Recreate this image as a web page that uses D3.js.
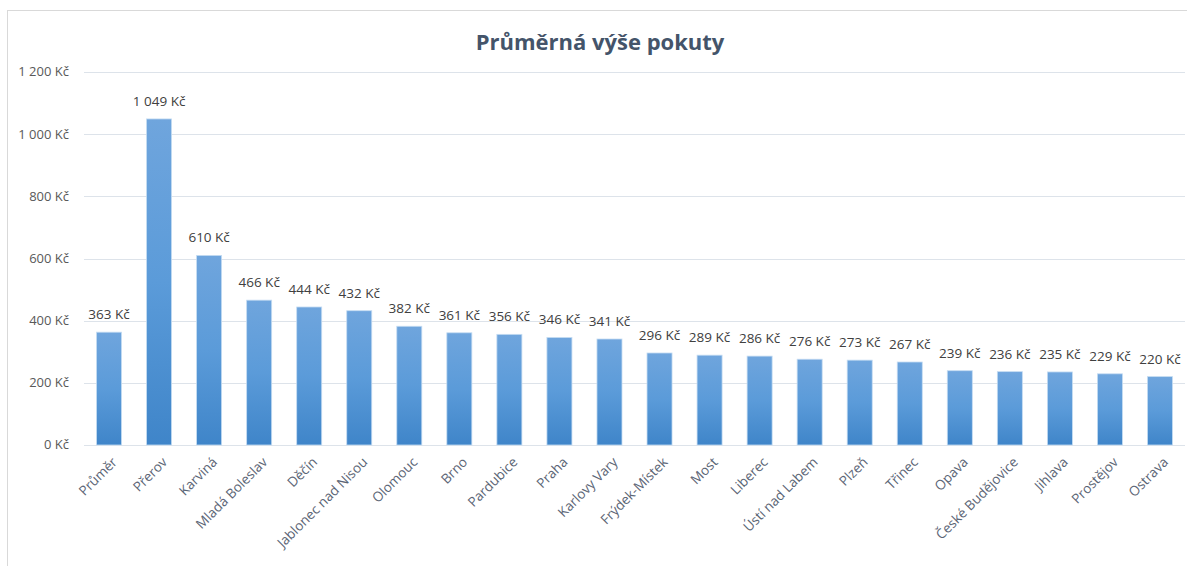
<!DOCTYPE html>
<html><head><meta charset="utf-8">
<script src="https://cdn.jsdelivr.net/npm/d3@7"></script>
<style>body{margin:0;background:#fff;}svg{display:block;font-family:"Open Sans",sans-serif;}</style>
</head><body>
<svg id="c" width="1187" height="566"></svg>
<script>
const categories = ["Průměr","Přerov","Karviná","Mladá Boleslav","Děčín","Jablonec nad Nisou","Olomouc","Brno","Pardubice","Praha","Karlovy Vary","Frýdek-Místek","Most","Liberec","Ústí nad Labem","Plzeň","Třinec","Opava","České Budějovice","Jihlava","Prostějov","Ostrava"];
const values = [363,1049,610,466,444,432,382,361,356,346,341,296,289,286,276,273,267,239,236,235,229,220];
const yTicks = [0,200,400,600,800,1000,1200];
const title = "Průměrná výše pokuty";

const FONT = "'Open Sans',sans-serif";
const fmt = v => d3.format(",")(v).replace(/,/g, "\u00a0") + " Kč";
const svg = d3.select("#c");
const W = 1187, H = 566;

svg.append("rect").attr("x",7.5).attr("y",10.5).attr("width",W-7).attr("height",H-10)
  .attr("fill","#fff").attr("stroke","#d9d9d9");

const x = d3.scaleBand().domain(categories).range([84,1185]).paddingInner(0.5).paddingOuter(0.25);
const y = d3.scaleLinear().domain([0,1200]).range([445,72]);

const defs = svg.append("defs");
const g = defs.append("linearGradient").attr("id","grad").attr("x1",0).attr("y1",0).attr("x2",0).attr("y2",1);
g.append("stop").attr("offset","0%").attr("stop-color","#6fa5dd");
g.append("stop").attr("offset","50%").attr("stop-color","#5b9bd9");
g.append("stop").attr("offset","100%").attr("stop-color","#3f85c9");

svg.append("g").selectAll("line").data(yTicks).join("line")
  .attr("x1",84).attr("x2",1185).attr("y1",d=>Math.round(y(d))+0.5).attr("y2",d=>Math.round(y(d))+0.5)
  .attr("stroke","#dde3ea").attr("stroke-width",1);

const yAxis = d3.axisLeft(y).tickValues(yTicks).tickSize(0).tickPadding(0).tickFormat(fmt);
svg.append("g").attr("transform","translate(69,0)").call(yAxis)
  .call(s=>s.select(".domain").remove())
  .call(s=>s.selectAll("text").attr("fill","#595959").attr("font-size","13px").attr("font-family",FONT).attr("dy","0.3em"));

svg.append("g").selectAll("rect").data(values).join("rect")
  .attr("x",(d,i)=>x(categories[i])).attr("width",x.bandwidth())
  .attr("y",d=>y(d)).attr("height",d=>y(0)-y(d))
  .attr("fill","url(#grad)").attr("stroke","#c5dcf2").attr("stroke-width",0.8);

svg.append("g").selectAll("text").data(values).join("text")
  .attr("x",(d,i)=>x(categories[i])+x.bandwidth()/2).attr("y",d=>y(d)-13)
  .attr("text-anchor","middle").attr("fill","#404040").attr("font-size","13.5px").attr("font-family",FONT)
  .text(fmt);

const xAxis = d3.axisBottom(x).tickSize(0).tickPadding(0);
svg.append("g").attr("transform","translate(0,445)").call(xAxis)
  .call(s=>s.select(".domain").remove())
  .call(s=>s.selectAll("text")
    .attr("fill","#5b6575").attr("font-size","13.5px").attr("font-family",FONT)
    .attr("text-anchor","end").attr("dy",0).attr("y",0)
    .attr("transform","translate(9,18) rotate(-45)"));

svg.append("text").attr("x",600).attr("y",50).attr("text-anchor","middle").attr("font-family",FONT)
  .attr("font-size","22px").attr("font-weight","bold").attr("fill","#44546a").text(title);
</script>
</body></html>
